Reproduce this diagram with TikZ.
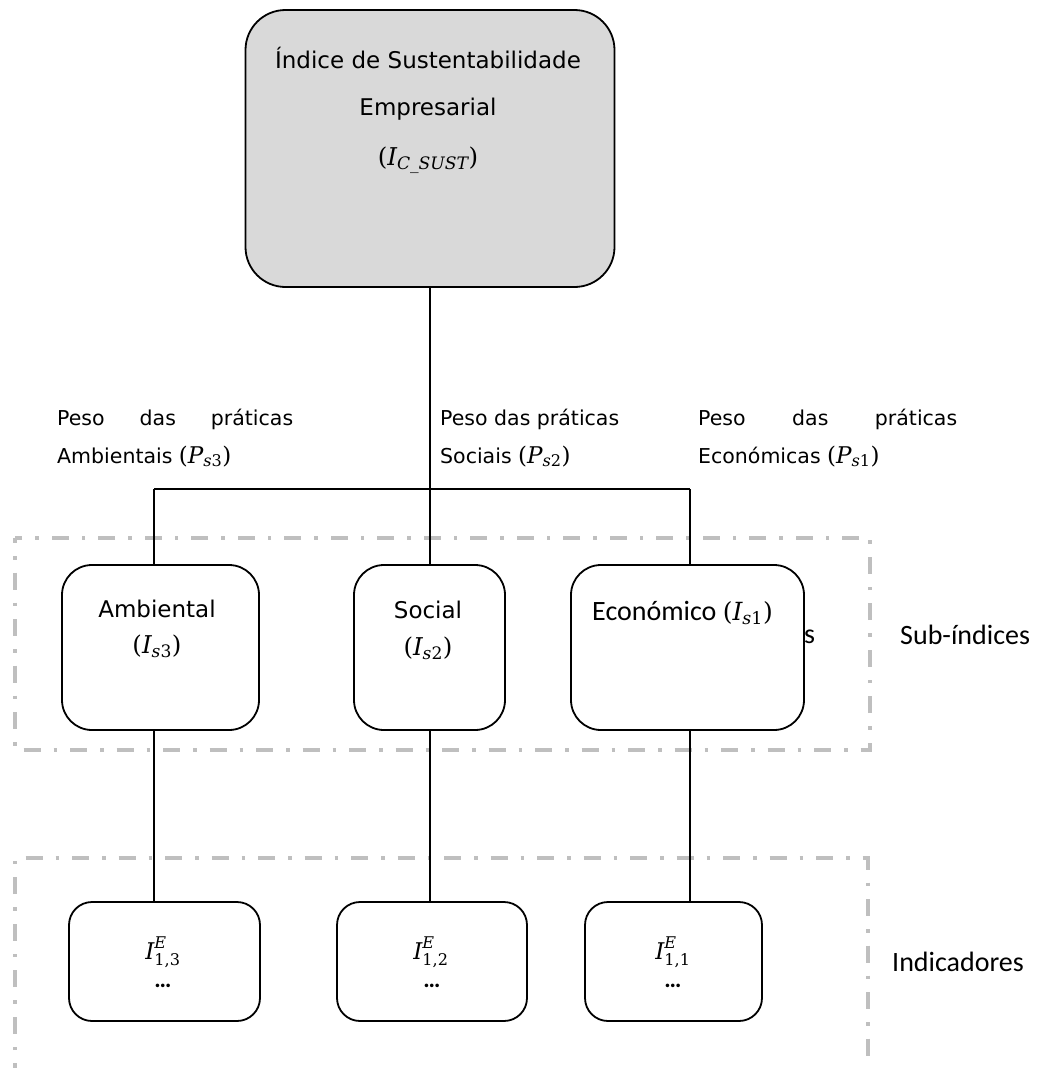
\documentclass[tikz,border=0pt]{standalone}
\usepackage{amsmath}
\usepackage[no-math]{fontspec}
\setmainfont{DejaVu Sans}
\newfontfamily\calibfont{Carlito}
\newfontfamily\mfont{DejaVu Serif}
\definecolor{panelgray}{RGB}{217,217,217}
\definecolor{framegray}{RGB}{191,191,191}
\newcommand{\fsz}[1]{\fontsize{#1}{#1}\selectfont}
% symbols set as italic letters and upright figures
\newcommand{\mi}[1]{\text{\mfont\itshape #1}}
\newcommand{\mn}[1]{\text{\mfont #1}}
\newcommand{\sym}[3]{{\fontsize{#1}{#1}\selectfont\mfont($\mi{#2}_{#3}$)}}
\begin{document}
\begin{tikzpicture}[x=1pt,y=-1pt,
  card/.style={draw=black, line width=1.8pt, fill=white, inner sep=0pt},
  link/.style={draw=black, line width=1.3pt},
  groupframe/.style={draw=framegray, line width=3.5pt,
    dash pattern=on 17pt off 13pt on 3.5pt off 13pt},
  txt/.style={inner sep=0pt, anchor=base, font=\fsz{23}},
  lbl/.style={inner sep=0pt, anchor=base west, font=\fsz{20.5}},
  side/.style={inner sep=0pt, anchor=base west, font=\calibfont\fsz{28}},
]
\useasboundingbox (0,0) rectangle (1048,1068);

% group frames
\draw[groupframe, dash phase=12pt] (15,538) rectangle (870,750);
\draw[groupframe, dash phase=12pt] (15,1068) -- (15,858) -- (868,858) -- (868,1068);

% top index
\node[card, fill=panelgray, rounded corners=40pt, minimum width=369pt, minimum height=277pt] (idx) at (430,148.5) {};
\node[txt] (idx1) at (428,68) {Índice de Sustentabilidade};
\node[txt] (idx2) at (428,115) {Empresarial};
\node[txt] (idx3) at (428,165) {\sym{24.5}{I}{\mi{C\_SUST}}};

% weights
\node[lbl] (wA1) at (57,425.7) {\hbox to 236pt{Peso\hfill das\hfill práticas}};
\node[lbl] (wA2) at (57,463) {Ambientais \sym{23}{P}{\mi{s}\mn{3}}};
\node[lbl] (wS1) at (440,425.7) {Peso das práticas};
\node[lbl] (wS2) at (440,463) {Sociais \sym{23}{P}{\mi{s}\mn{2}}};
\node[lbl] (wE1) at (698,425.7) {\hbox to 259pt{Peso\hfill das\hfill práticas}};
\node[lbl] (wE2) at (698,463) {Económicas \sym{23}{P}{\mi{s}\mn{1}}};

% stray letter partly covered by the economic box
\node[side] (tail) at (804,643) {s};

% sub-indices
\node[card, rounded corners=30pt, minimum width=197pt, minimum height=165pt] (amb) at (160.5,647.5) {};
\node[card, rounded corners=30pt, minimum width=151pt, minimum height=165pt] (soc) at (429.5,647.5) {};
\node[card, rounded corners=30pt, minimum width=233pt, minimum height=165pt] (eco) at (687.5,647.5) {};
\node[txt] (amb1) at (157,617) {Ambiental};
\node[txt] (amb2) at (157,653) {\sym{24.5}{I}{\mi{s}\mn{3}}};
\node[txt] (soc1) at (428,618) {Social};
\node[txt] (soc2) at (428,655) {\sym{24.5}{I}{\mi{s}\mn{2}}};
\node[inner sep=0pt, anchor=base west, font=\calibfont\fsz{28}] (eco1) at (592,620) {Económico \sym{25}{I}{\mi{s}\mn{1}}};

% indicators
\node[card, rounded corners=23pt, minimum width=191pt, minimum height=119pt] (indA) at (164.5,961.5) {};
\node[card, rounded corners=23pt, minimum width=190pt, minimum height=119pt] (indS) at (432,961.5) {};
\node[card, rounded corners=23pt, minimum width=177pt, minimum height=119pt] (indE) at (673.5,961.5) {};
\node[txt, font=\mfont\fsz{23}] (indA1) at (163,959) {$\mi{I}^{\mi{E}}_{\mn{1,3}}$};
\node[txt, font=\mfont\fsz{23}] (indS1) at (431,959) {$\mi{I}^{\mi{E}}_{\mn{1,2}}$};
\node[txt, font=\mfont\fsz{23}] (indE1) at (673,959) {$\mi{I}^{\mi{E}}_{\mn{1,1}}$};
\node[txt, font=\calibfont\bfseries\fsz{24}] (indA2) at (163,987) {…};
\node[txt, font=\calibfont\bfseries\fsz{24}] (indS2) at (432,987) {…};
\node[txt, font=\calibfont\bfseries\fsz{24}] (indE2) at (673,987) {…};

% group labels
\node[side] (gSub) at (900,644) {Sub-índices};
\node[side] (gInd) at (892,971) {Indicadores};

% connectors
\coordinate (busL) at (154,489);
\coordinate (busR) at (690,489);
\draw[link] (busL) -- (busR);
\draw[link] (idx.south) -- (idx.south |- soc.north);
\draw[link] (busL) -- (busL |- amb.north);
\draw[link] (busR) -- (busR |- eco.north);
\draw[link] (busL |- amb.south) -- (busL |- indA.north);
\draw[link] (idx.south |- soc.south) -- (idx.south |- indS.north);
\draw[link] (busR |- eco.south) -- (busR |- indE.north);
\end{tikzpicture}
\end{document}
